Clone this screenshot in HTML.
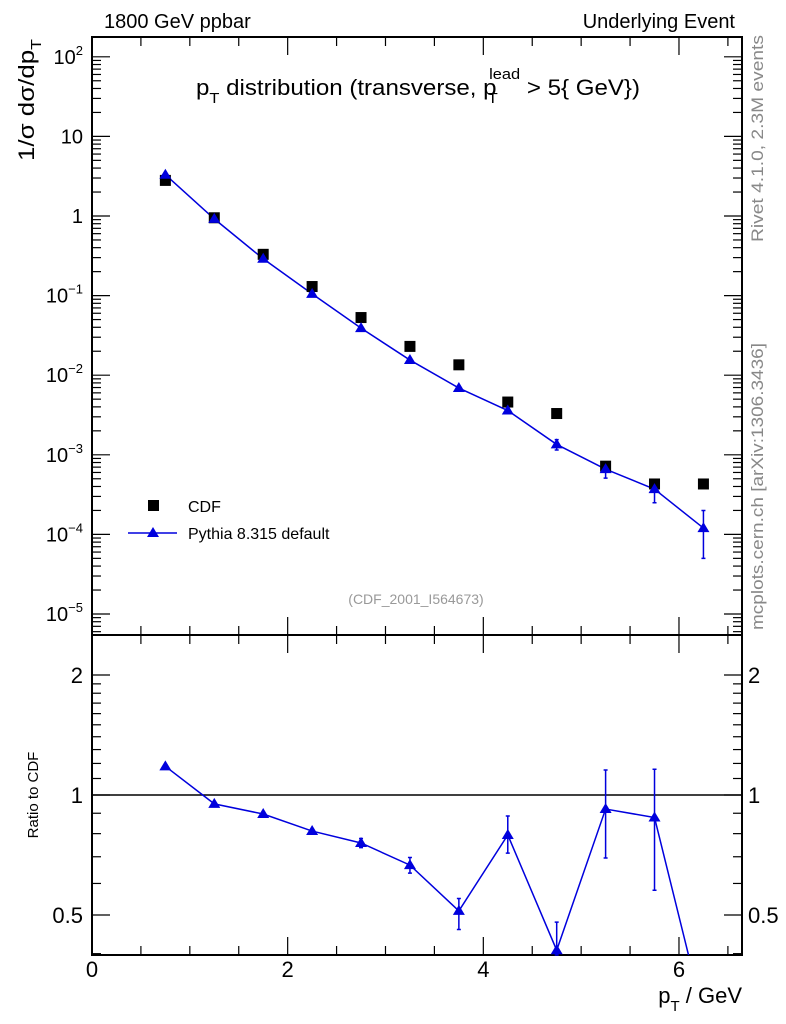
<!DOCTYPE html>
<html><head><meta charset="utf-8"><style>
body{margin:0;background:#fff;}
svg{display:block;font-family:"Liberation Sans",sans-serif;}
</style></head><body>
<svg id="plot" width="786" height="1024" viewBox="0 0 786 1024" xmlns="http://www.w3.org/2000/svg">
<text x="104" y="28" font-size="20">1800 GeV ppbar</text>
<text x="735" y="28" font-size="20" text-anchor="end">Underlying Event</text>
<text x="196" y="95" font-size="22" textLength="444" lengthAdjust="spacingAndGlyphs">p<tspan font-size="15" dy="8">T</tspan><tspan dy="-8"> distribution (transverse, p</tspan><tspan font-size="15" dx="-8" dy="8">T</tspan><tspan font-size="15" dx="-8" dy="-24">lead</tspan><tspan dy="16"> &gt; 5{ GeV})</tspan></text>
<text transform="translate(34,161) rotate(-90)" font-size="22" textLength="122" lengthAdjust="spacingAndGlyphs">1/σ  dσ/dp<tspan font-size="15" dy="7">T</tspan></text>
<text transform="translate(38,795) rotate(-90)" font-size="15" text-anchor="middle">Ratio to CDF</text>
<text x="742" y="1003" font-size="22" text-anchor="end">p<tspan font-size="15" dy="8">T</tspan><tspan dy="-8"> / GeV</tspan></text>
<text transform="translate(763,242) rotate(-90)" font-size="17" fill="#888" textLength="207" lengthAdjust="spacingAndGlyphs">Rivet 4.1.0,  2.3M events</text>
<text transform="translate(763,630) rotate(-90)" font-size="17" fill="#888" textLength="287" lengthAdjust="spacingAndGlyphs">mcplots.cern.ch [arXiv:1306.3436]</text>
<text x="416" y="604" font-size="14" fill="#999" text-anchor="middle">(CDF_2001_I564673)</text>
<g>
<rect x="148" y="500" width="11" height="11" fill="#000"/>
<text x="188" y="512" font-size="16">CDF</text>
<line x1="128" y1="533" x2="177" y2="533" stroke="#0000dd" stroke-width="1.5"/>
<path d="M153,527 L159,537 L147,537 Z" fill="#0000dd"/>
<text x="188" y="539" font-size="16">Pythia 8.315 default</text>
</g>
<g id="axes"></g>
<g id="marks"></g>
</svg>
<script>
const binCenters=[0.75,1.25,1.75,2.25,2.75,3.25,3.75,4.25,4.75,5.25,5.75,6.25];
const cdfValues=[2.8,0.95,0.33,0.13,0.053,0.023,0.0135,0.0046,0.0033,0.00072,0.00043,0.00043];
const pythiaValues=[3.3,0.92,0.29,0.105,0.039,0.0155,0.0069,0.0036,0.00135,0.00066,0.00037,0.00012];
const pythiaErrLow=[0,0,0,0,0,0,0,0,0.0002,0.00015,0.00012,0.00007];
const pythiaErrHigh=[0,0,0,0,0,0,0,0,0.0002,0.00015,0.00011,0.00008];
const ratioValues=[1.18,0.95,0.896,0.812,0.758,0.667,0.512,0.794,0.408,0.922,0.878,0.28];
const ratioErrLow=[0,0,0,0,0.02,0.03,0.052,0.079,0.05,0.227,0.301,0];
const ratioErrHigh=[0,0,0,0,0.02,0.03,0.038,0.092,0.072,0.233,0.282,0];
const xTickLabels=["0","2","4","6"];
const mainYTickExps=[-5,-4,-3,-2,-1,0,1,2];
const ratioTickValues=[0.5,1,2];

const L=92,R=742,T=37,MB=635,RB=955;
const xs=v=>L+v*97.83;
const ys=v=>216-Math.log10(v)*79.6;
const yr=v=>795-Math.log10(v)*398.7;
const NS="http://www.w3.org/2000/svg";
const axes=document.getElementById('axes'),marks=document.getElementById('marks');
function mk(t,a,p){const e=document.createElementNS(NS,t);for(const k in a)e.setAttribute(k,a[k]);(p||axes).appendChild(e);return e;}
let f1=mk('rect',{x:L,y:T,width:R-L,height:MB-T,fill:'none',stroke:'#000','stroke-width':2});


let f2=mk('rect',{x:L,y:MB,width:R-L,height:RB-MB,fill:'none',stroke:'#000','stroke-width':2});


for(let i=0;i<=13;i++){const v=i*0.5,x=xs(v);if(x>R)break;const len=(i%4==0)?18:9;
 for(const [y0,dir] of [[T,1],[MB,-1],[MB,1],[RB,-1]]){mk('line',{x1:x,y1:y0,x2:x,y2:y0+dir*len,stroke:'#000','stroke-width':1.2});}}
xTickLabels.forEach(s=>{const t=mk('text',{x:xs(+s),y:RB+22,'font-size':22,'text-anchor':'middle'});t.textContent=s;
 
 });
for(let e=-6;e<=2;e++){for(let m=1;m<10;m++){const v=m*Math.pow(10,e),y=ys(v);if(y<T||y>MB)continue;const len=m==1?18:9;
 mk('line',{x1:L,y1:y,x2:L+len,y2:y,stroke:'#000','stroke-width':1.2});mk('line',{x1:R,y1:y,x2:R-len,y2:y,stroke:'#000','stroke-width':1.2});}}
mainYTickExps.forEach(e=>{const y=ys(Math.pow(10,e))+7;
 const t=mk('text',{x:L-9,y:y,'font-size':20,'text-anchor':'end'});
 
 
 if(e===0){t.textContent='1';}else if(e===1){t.textContent='10';}
 else{const a=mk('tspan',{},t);a.textContent='10';const b=mk('tspan',{'font-size':13,dy:-9},t);b.textContent=(e<0?'\u2212':'')+Math.abs(e);}
});
for(let v=0.4;v<=2.5;v+=(v<1.99?0.1:0.5)){const vv=Math.round(v*10)/10,y=yr(vv);if(y<MB||y>RB)continue;
 const maj=ratioTickValues.includes(vv);const len=maj?18:9;
 mk('line',{x1:L,y1:y,x2:L+len,y2:y,stroke:'#000','stroke-width':1.2});mk('line',{x1:R,y1:y,x2:R-len,y2:y,stroke:'#000','stroke-width':1.2});}
ratioTickValues.forEach(v=>{const s=String(v);
 const t=mk('text',{x:L-9,y:yr(v)+8,'font-size':22,'text-anchor':'end'});t.textContent=s;
 
 
 const t2=mk('text',{x:R+6,y:yr(v)+8,'font-size':22});t2.textContent=s;
 
 });
let ul=mk('line',{x1:L,y1:yr(1),x2:R,y2:yr(1),stroke:'#000','stroke-width':1.5});


const clipMain=mk('clipPath',{id:'cm'});mk('rect',{x:L,y:T,width:R-L,height:MB-T},clipMain);
const clipR=mk('clipPath',{id:'cr'});mk('rect',{x:L,y:MB,width:R-L,height:RB-MB},clipR);
let pl=mk('polyline',{points:binCenters.map((x,i)=>xs(x)+','+ys(pythiaValues[i])).join(' '),fill:'none',stroke:'#0000dd','stroke-width':1.5,'clip-path':'url(#cm)'},marks);


binCenters.forEach((x,i)=>{const X=xs(x);
 if(pythiaErrLow[i]||pythiaErrHigh[i]){const y1=ys(pythiaValues[i]-pythiaErrLow[i]),y2=ys(pythiaValues[i]+pythiaErrHigh[i]);
  const eb=mk('path',{d:`M${X},${y1}V${y2}M${X-2},${y1}H${X+2}M${X-2},${y2}H${X+2}`,stroke:'#0000dd','stroke-width':1.5,fill:'none'},marks);
  
  }
 const sq=mk('rect',{x:X-5.5,y:ys(cdfValues[i])-5.5,width:11,height:11,fill:'#000'},marks);
 
 
 const Y=ys(pythiaValues[i]);
 const tr=mk('path',{d:`M${X},${Y-6}L${X+6},${Y+4}L${X-6},${Y+4}Z`,fill:'#0000dd'},marks);
 
 });
let rl=mk('polyline',{points:binCenters.map((x,i)=>xs(x)+','+yr(ratioValues[i])).join(' '),fill:'none',stroke:'#0000dd','stroke-width':1.5,'clip-path':'url(#cr)'},marks);


binCenters.forEach((x,i)=>{const X=xs(x),Y=yr(ratioValues[i]);if(Y>RB+2)return;
 if(ratioErrLow[i]||ratioErrHigh[i]){const y1=Math.min(yr(ratioValues[i]-ratioErrLow[i]),RB),y2=yr(ratioValues[i]+ratioErrHigh[i]);
  const eb=mk('path',{d:`M${X},${y1}V${y2}M${X-2},${y1}H${X+2}M${X-2},${y2}H${X+2}`,stroke:'#0000dd','stroke-width':1.5,fill:'none'},marks);
  
  }
 const tr=mk('path',{d:`M${X},${Y-6}L${X+6},${Y+4}L${X-6},${Y+4}Z`,fill:'#0000dd','clip-path':'url(#cr)'},marks);
 
 });
</script>
</body></html>
